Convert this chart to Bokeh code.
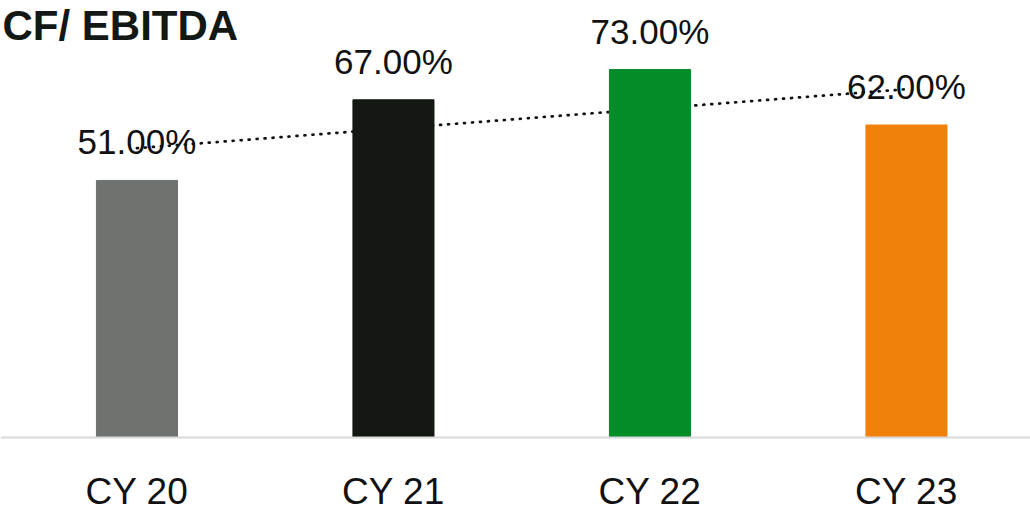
import numpy as np
from bokeh.plotting import figure
from bokeh.models import ColumnDataSource, Range1d, Label, Span
from bokeh.core.properties import value
from bokeh.embed import file_html
from bokeh.resources import INLINE

title = "CF/ EBITDA"
categories = ["CY 20", "CY 21", "CY 22", "CY 23"]
values = [51.0, 67.0, 73.0, 62.0]
labels = ["51.00%", "67.00%", "73.00%", "62.00%"]
colors = ["#6f736f", "#131813", "#038c28", "#f0820b"]

FONT = "Liberation Sans"

xs = list(range(len(categories)))
src = ColumnDataSource(dict(x=xs, top=values, color=colors, label=labels,
                            cat=categories, zero=[0] * len(xs)))

p = figure(width=1030, height=513, output_backend="svg", toolbar_location=None,
           x_range=Range1d(-0.532, 3.4836), y_range=Range1d(-15.08, 86.7),
           min_border_left=0, min_border_right=0, min_border_top=0, min_border_bottom=0)
p.outline_line_color = None
p.xgrid.visible = False
p.ygrid.visible = False
p.xaxis.visible = False
p.yaxis.visible = False
p.background_fill_color = "white"
p.border_fill_color = "white"

# linear trendline fitted to the series (drawn behind the bars)
k, b = np.polyfit(np.array(xs, dtype=float), np.array(values), 1)
tx = [xs[0], xs[-1]]
p.line(x=tx, y=[k * t + b for t in tx], line_color="#111111", line_width=2.7,
       line_dash="1 7", line_cap="round")

p.vbar(x="x", top="top", bottom=0, width=0.316, color="color", source=src)

# category axis line at zero
p.add_layout(Span(location=0, dimension="width", line_color="#d9d9d9", line_width=2))

# value labels
p.text(x="x", y="top", text="label", source=src, text_align="center", text_baseline="bottom",
       y_offset=-19, text_font=value(FONT), text_font_size="35px", text_color="#111111")

# category labels under the axis line
p.text(x="x", y="zero", text="cat", source=src, text_align="center", text_baseline="top",
       y_offset=34, text_font=value(FONT), text_font_size="37px", text_color="#111111")

t = Label(x=2, y=465, x_units="screen", y_units="screen", text=title,
          text_align="left", text_baseline="bottom", text_font=FONT,
          text_font_size="42px", text_font_style="bold", text_color="#141814")
p.add_layout(t)

open("out.html", "w").write(file_html(p, INLINE))
